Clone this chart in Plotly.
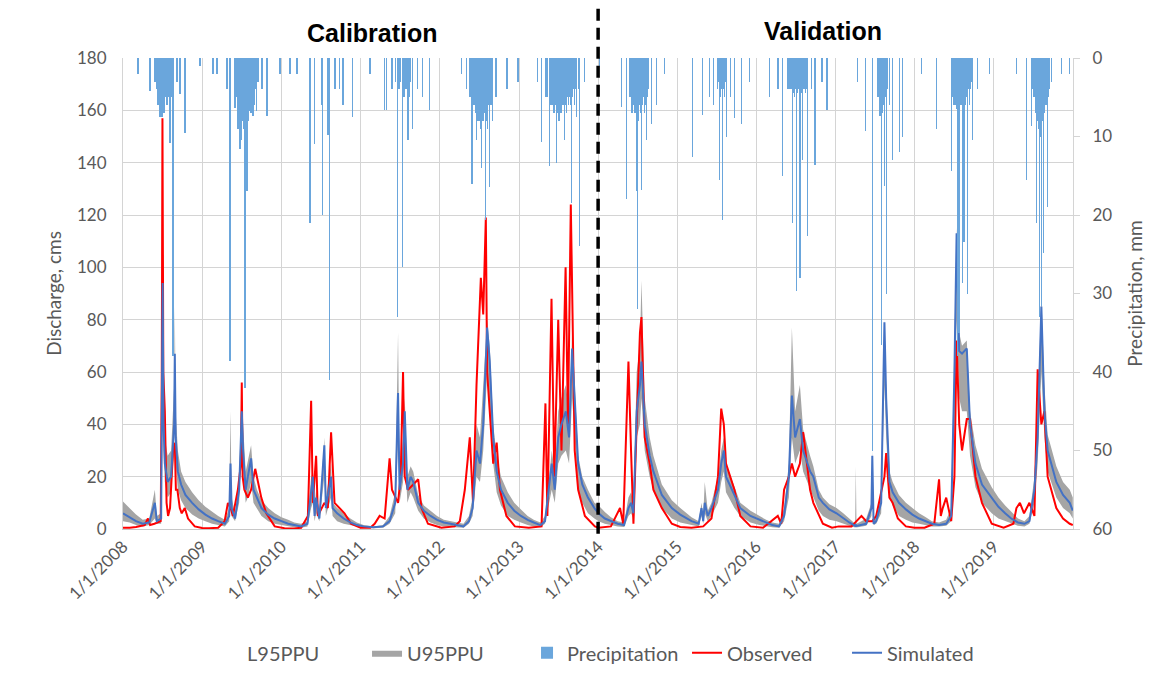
import plotly.graph_objects as go

# ---------------- data ----------------
sim_dates = [
    "2008-01-01","2008-02-01","2008-03-01","2008-04-01","2008-05-01","2008-05-27","2008-06-05","2008-06-25",
    "2008-06-29","2008-07-02","2008-07-06","2008-07-12","2008-07-25","2008-08-10","2008-08-24","2008-08-27",
    "2008-08-31","2008-09-10","2008-09-25","2008-10-15","2008-11-15","2008-12-15",
    "2009-01-15","2009-02-15","2009-03-15","2009-04-15","2009-05-05","2009-05-11","2009-05-16","2009-06-01",
    "2009-06-20","2009-07-02","2009-07-08","2009-07-20","2009-07-30","2009-08-14","2009-08-25","2009-09-10",
    "2009-10-01","2009-11-01","2009-12-01",
    "2010-01-01","2010-02-01","2010-03-01","2010-04-01","2010-05-01","2010-05-18","2010-05-26","2010-06-03",
    "2010-06-10","2010-06-25","2010-07-18","2010-07-25","2010-08-18","2010-08-25","2010-09-15","2010-10-15",
    "2010-11-15","2010-12-15",
    "2011-01-15","2011-03-01","2011-04-15","2011-05-15","2011-06-10","2011-06-23","2011-06-30","2011-07-16",
    "2011-07-24","2011-08-05","2011-08-20","2011-09-01","2011-09-24","2011-10-20","2011-11-20","2011-12-20",
    "2012-01-20","2012-02-20","2012-03-20","2012-04-20","2012-05-15","2012-06-01","2012-06-19","2012-07-05",
    "2012-07-20","2012-08-01","2012-08-07","2012-08-19","2012-09-04","2012-09-20","2012-10-10","2012-11-10",
    "2012-12-10",
    "2013-01-10","2013-02-10","2013-03-10","2013-04-10","2013-05-01","2013-05-15","2013-06-01","2013-06-15",
    "2013-07-01","2013-07-16","2013-08-05","2013-08-20","2013-08-28","2013-09-03","2013-09-15","2013-10-01",
    "2013-10-20","2013-11-15","2013-12-15",
    "2014-01-03","2014-02-01","2014-03-01","2014-04-01","2014-05-01","2014-05-21","2014-06-02","2014-06-13",
    "2014-06-28","2014-07-13","2014-07-20","2014-08-04","2014-08-27","2014-09-13","2014-10-22","2014-12-07",
    "2015-01-15","2015-03-08","2015-04-10","2015-04-23","2015-05-01","2015-05-08","2015-05-22","2015-06-08",
    "2015-07-08","2015-07-23","2015-08-04","2015-08-14","2015-09-22","2015-10-19","2015-12-05",
    "2016-01-15","2016-02-15","2016-03-15","2016-04-15","2016-05-08","2016-05-30","2016-06-13","2016-06-28",
    "2016-07-20","2016-08-04","2016-09-05","2016-09-20","2016-10-15","2016-11-03","2016-12-03",
    "2017-01-05","2017-02-05","2017-03-05","2017-04-01","2017-04-04","2017-04-07","2017-04-30","2017-05-22",
    "2017-06-15","2017-06-19","2017-06-25","2017-07-07","2017-07-30","2017-08-14","2017-08-22","2017-09-06",
    "2017-09-21","2017-10-20","2017-11-21","2017-12-21",
    "2018-01-21","2018-02-21","2018-03-21","2018-04-23","2018-05-26","2018-06-18","2018-07-03","2018-07-13",
    "2018-07-25","2018-08-07","2018-08-29","2018-09-13","2018-10-08","2018-11-07","2018-12-22",
    "2019-01-22","2019-02-22","2019-03-22","2019-04-22","2019-05-22","2019-06-14","2019-07-07","2019-07-22",
    "2019-08-08","2019-08-22","2019-09-06","2019-10-16","2019-11-16","2019-12-17","2019-12-31",
]
sim_vals = [
    6,4.5,3,2,2.5,10,3,4,60,94,40,25,18,20,40,67,35,22,17,13,10,7.5,
    5.5,4,3,2,5,25,8,4,15,45,30,15,20,27,15,12,8,5.5,4,
    3,2,1.5,1,2,15,20,5,12,4,32,8,20,8,6,4,2.5,1.5,
    1,0.7,1,3,10,52,15,25,45,15,20,18,10,7,5,3.5,
    2.5,2,1.5,1,3,8,30,25,40,70,77,64,35,22,15,10,7,
    5,3.5,2.5,1.5,3,12,25,15,35,40,45,35,55,69,50,25,17,12,8,
    6,4,3,2,1.5,8,10,6,45,55,64,40,28,22,13,8,
    5.5,3,2,8,3,10,5,8,15,25,30,20,13,8,5,
    3.5,2.5,1.5,1,5,20,51,35,42,30,22,20,12,10,7.5,
    6,4,2.5,1.2,1.5,1.2,1.5,2,8,28,2,3,10,79,50,18,14,10,7.5,5.5,
    4,3,2,1.5,2,5,60,113,68,67,69,40,25,17,12,
    8.5,6,4,2.5,2,3,15,35,85,45,30,18,13,10,7,
]
l95_vals = [
    3,2.5,1.5,1,1.5,4,2,2,40,70,30,18,12,14,30,50,25,15,11,8,5.5,4,
    3,2,1.5,1,3,15,5,3,10,35,22,10,12,18,10,8,5,3,2,
    1.5,1,0.7,0.5,1,8,10,3,6,3,20,5,12,5,3,2,1.5,0.8,
    0.5,0.3,0.5,2,6,35,10,18,30,10,14,12,7,4,2.5,1.5,
    1,0.8,0.6,0.5,2,5,20,18,30,50,60,45,25,14,9,5,3.5,
    2.5,1.5,1,0.7,2,8,15,10,25,28,30,25,40,50,35,15,10,6,4,
    3,2,1.5,1,0.8,5,6,4,35,40,50,30,20,15,8,4,
    2.5,1.5,1,5,2,6,3,5,10,18,22,14,8,5,2.5,
    1.5,1,0.7,0.5,3,12,35,25,30,22,15,12,7,5,3.5,
    3,2,1.2,0.6,0.8,0.6,1,1.2,5,18,1.5,2,6,55,35,12,9,5,3.5,2.5,
    2,1.5,1,1,1.2,3,40,80,50,45,45,28,16,10,6,
    4,3,2,1.2,1,2,10,25,60,35,22,12,8,6,4,
]
u95_vals = [
    10.5,8,5.5,3.5,4,15,5,6,80,100,55,35,28,30,55,85,45,30,22,18,14,11,
    8.5,6.5,5,3.5,8,45,12,6,20,55,40,22,26,32,20,15,11,8,6,
    4.5,3.5,2.5,2,3,20,22,8,15,6,35,12,25,10,8,6,4,2.5,
    1.5,1,1.5,5,14,75,20,35,50,20,24,22,13,9,7,5,
    3.5,3,2.5,2,5,12,40,35,55,75,80,70,40,28,20,14,10,
    7.5,5,3.5,2.5,5,15,30,22,45,50,55,45,60,75,55,28,20,15,10,
    9,6.5,4.5,3,2.5,12,14,10,60,70,95,50,35,28,17,11,
    8,4.5,3,10,5,18,7,10,20,30,35,25,16,10,7,
    5,3.5,2.5,2,8,25,77,45,55,38,28,24,15,12,9.5,
    8,6,4,2,24,2,3,4,10,30,4,5,15,80,55,22,18,13,10,8,
    6,4.5,3,2.5,3.5,8,70,115,75,70,72,45,32,23,16,
    12,9,6.5,4,3,5,20,45,90,55,36,24,18,15,12,
]

obs_dates = [
    "2008-01-01","2008-02-01","2008-03-01","2008-04-10","2008-04-25","2008-05-05","2008-05-25","2008-06-10",
    "2008-06-23","2008-06-28","2008-07-01","2008-07-05","2008-07-12","2008-07-20","2008-07-27","2008-08-05",
    "2008-08-19","2008-08-27","2008-09-01","2008-09-08","2008-09-19","2008-09-28","2008-10-12","2008-10-27",
    "2008-11-27","2008-12-31",
    "2009-02-01","2009-03-15","2009-04-14","2009-04-29","2009-05-11","2009-05-22","2009-06-14","2009-06-28",
    "2009-07-02","2009-07-06","2009-07-14","2009-07-30","2009-08-14","2009-09-02","2009-09-14","2009-09-30",
    "2009-10-23","2009-12-01",
    "2010-01-15","2010-03-01","2010-04-02","2010-05-03","2010-05-18","2010-05-22","2010-05-26","2010-06-10",
    "2010-06-18","2010-07-18","2010-08-03","2010-08-18","2010-09-03","2010-10-19","2010-11-18",
    "2011-01-01","2011-02-15","2011-03-07","2011-03-30","2011-04-22","2011-05-15","2011-05-26","2011-06-23",
    "2011-07-05","2011-07-16","2011-07-24","2011-08-08","2011-09-01","2011-09-24","2011-10-09","2011-11-08",
    "2012-01-09","2012-03-10","2012-04-03","2012-04-26","2012-05-19","2012-06-03","2012-06-19","2012-07-09",
    "2012-07-20","2012-08-01","2012-08-07","2012-08-19","2012-09-04","2012-09-20","2012-10-05","2012-11-04",
    "2012-12-13",
    "2013-02-15","2013-04-15","2013-05-03","2013-05-12","2013-05-31","2013-06-13","2013-07-01","2013-07-16",
    "2013-08-04","2013-08-15","2013-08-28","2013-09-15","2013-10-01","2013-11-01","2013-12-17",
    "2014-01-03","2014-03-01","2014-04-12","2014-04-27","2014-05-21","2014-06-02","2014-06-13","2014-06-28",
    "2014-07-13","2014-07-20","2014-08-04","2014-08-27","2014-09-13","2014-10-22","2014-12-07",
    "2015-01-15","2015-03-08","2015-05-01","2015-06-08","2015-07-08","2015-07-23","2015-08-04","2015-08-14",
    "2015-09-22","2015-10-19","2015-12-05",
    "2016-02-01","2016-04-09","2016-04-25","2016-05-08","2016-05-30","2016-06-13","2016-06-28","2016-07-20",
    "2016-08-04","2016-09-05","2016-09-20","2016-11-03","2016-12-15",
    "2017-01-15","2017-03-15","2017-04-30","2017-05-22","2017-06-19","2017-07-07","2017-08-14","2017-08-22",
    "2017-09-06","2017-09-21","2017-10-15","2017-11-21","2017-12-31",
    "2018-02-15","2018-04-01","2018-04-23","2018-05-01","2018-05-10","2018-05-26","2018-06-18","2018-07-03",
    "2018-07-13","2018-07-25","2018-08-07","2018-08-29","2018-09-13","2018-10-08","2018-11-07","2018-12-22",
    "2019-02-15","2019-04-01","2019-04-15","2019-05-01","2019-05-20","2019-06-14","2019-07-07","2019-07-22",
    "2019-08-08","2019-08-22","2019-09-06","2019-10-16","2019-11-16","2019-12-17","2019-12-31",
]
obs_vals = [
    0.5,0.5,0.8,1.5,4,1.5,2,2.5,3,60,157,60,45,10,5,8,30,33,15,15,8,6,8,4,1,0.4,
    0.3,0.5,3,10,8,5,15,25,56,20,15,12,15,23,18,12,6,1,
    0.3,0.2,0.5,5,49,15,10,28,5,10,8,37,10,6,2,
    0.5,0.5,2,5,4,27,15,10,20,60,20,15,17,19,8,2,
    0.5,1,3,15,35,10,55,96,82,119,60,45,25,33,15,5,1,
    0.5,1,48,5,88,20,80,30,100,40,124,30,15,5,1,
    0.5,1,8,2,64,30,2,40,75,81,35,25,15,8,2,
    0.8,0.5,1,4,20,46,40,25,15,5,1,
    0.5,5,2,15,20,25,20,25,37,15,10,2,0.5,
    1,1,5,3,3,5,20,29,12,10,4,1,0.5,
    0.5,2,19,5,8,12,3,20,72,40,30,42,42,20,10,2,
    0.5,2,8,10,6,10,5,61,40,45,20,8,4,2,1.5,
]

pcp_dates = [
    "2008-03-10","2008-05-05","2008-05-28","2008-06-05","2008-06-10","2008-06-15","2008-06-20","2008-06-25",
    "2008-06-29","2008-07-05","2008-07-09","2008-07-13","2008-07-18","2008-07-22","2008-07-27","2008-07-31",
    "2008-08-05","2008-08-10","2008-08-14","2008-08-19","2008-09-06","2008-09-20","2008-10-13","2008-12-21",
    "2009-02-19","2009-03-09","2009-04-24","2009-05-08","2009-05-31","2009-06-05","2009-06-14","2009-06-19",
    "2009-06-24","2009-06-28","2009-07-02","2009-07-06","2009-07-11","2009-07-16","2009-07-21","2009-07-26",
    "2009-07-31","2009-08-04","2009-08-08","2009-08-13","2009-08-17","2009-08-22","2009-08-27","2009-09-01",
    "2009-09-09","2009-09-14","2009-10-03","2009-10-26","2009-12-25",
    "2010-02-10","2010-03-13","2010-05-12","2010-06-03","2010-07-05","2010-07-10","2010-08-03","2010-08-12",
    "2010-09-05","2010-09-27","2010-10-12","2010-11-25",
    "2011-02-13","2011-04-22","2011-05-01","2011-05-26","2011-06-10","2011-06-21","2011-06-28","2011-07-05",
    "2011-07-14","2011-07-20","2011-07-25","2011-08-02","2011-08-07","2011-08-12","2011-08-16","2011-08-20",
    "2011-08-29","2011-09-21","2011-10-15","2011-11-16",
    "2012-04-12","2012-05-05","2012-05-20","2012-05-29","2012-06-05","2012-06-10","2012-06-15","2012-06-20",
    "2012-06-25","2012-07-04","2012-07-08","2012-07-13","2012-07-18","2012-07-23","2012-07-27","2012-07-31",
    "2012-08-05","2012-08-10","2012-08-14","2012-08-19","2012-08-24","2012-08-28","2012-09-02","2012-09-16",
    "2012-11-06","2012-12-28",
    "2013-03-28","2013-04-16","2013-05-04","2013-05-10","2013-05-22","2013-05-28","2013-06-06","2013-06-12",
    "2013-06-18","2013-06-24","2013-06-30","2013-07-04","2013-07-08","2013-07-14","2013-07-22","2013-07-26",
    "2013-07-30","2013-08-05","2013-08-09","2013-08-13","2013-08-18","2013-08-23","2013-08-27","2013-09-01",
    "2013-09-06","2013-09-10","2013-09-15","2013-09-20","2013-09-24","2013-10-02","2013-10-08","2013-10-31",
    "2014-01-08","2014-04-19","2014-05-12","2014-05-26","2014-06-01","2014-06-05","2014-06-09","2014-06-14",
    "2014-06-18","2014-06-23","2014-06-28","2014-07-02","2014-07-06","2014-07-11","2014-07-15","2014-07-20",
    "2014-07-24","2014-07-29","2014-08-03","2014-08-07","2014-08-12","2014-08-16","2014-08-22","2014-09-05",
    "2014-09-28","2014-11-03",
    "2015-03-13","2015-04-28","2015-05-30","2015-06-17","2015-07-06","2015-07-11","2015-07-16","2015-07-20",
    "2015-07-25","2015-07-29","2015-08-03","2015-08-08","2015-08-12","2015-08-17","2015-09-05","2015-09-23",
    "2015-10-25","2015-12-01",
    "2016-03-03","2016-04-09","2016-05-01","2016-05-26","2016-06-05","2016-06-10","2016-06-17","2016-06-22",
    "2016-06-26","2016-07-01","2016-07-05","2016-07-10","2016-07-15","2016-07-20","2016-07-25","2016-07-29",
    "2016-08-02","2016-08-06","2016-08-10","2016-08-15","2016-08-20","2016-08-25","2016-09-12","2016-09-28",
    "2016-10-30","2016-11-22",
    "2017-04-13","2017-05-19","2017-06-20","2017-07-13","2017-07-20","2017-07-24","2017-07-27","2017-07-31",
    "2017-08-05","2017-08-10","2017-08-14","2017-08-18","2017-08-23","2017-08-28","2017-09-06","2017-09-20",
    "2017-10-22","2017-11-05",
    "2018-02-02","2018-04-12","2018-06-20","2018-06-25","2018-06-29","2018-07-03","2018-07-08","2018-07-12",
    "2018-07-17","2018-07-21","2018-07-25","2018-07-29","2018-08-03","2018-08-08","2018-08-12","2018-08-17",
    "2018-08-21","2018-08-26","2018-09-01","2018-09-05","2018-09-10","2018-09-15","2018-09-19","2018-09-24",
    "2018-10-18","2018-12-12",
    "2019-04-15","2019-05-31","2019-06-24","2019-07-01","2019-07-06","2019-07-11","2019-07-16","2019-07-20",
    "2019-07-25","2019-07-30","2019-08-03","2019-08-08","2019-08-13","2019-08-18","2019-08-22","2019-08-27",
    "2019-08-31","2019-09-05","2019-09-09","2019-09-14","2019-09-24","2019-11-10","2019-12-16",
]
pcp_vals = [
    2,4.2,3,4,6,6,7.5,7,7.5,6,7,5,5,6,4,5,10.8,4,5,38,3,4.6,9.5,1,
    2,2,4,38.6,6.4,5,9,8,11.6,9,10.4,8,9,42,7,17,8,6,6.8,7,5,7.4,6,4,6.8,3,4,7.4,2,
    2,2,21,11,6,20,9.8,41,4,3.9,6,7.5,
    2,6.6,6.6,4,3,33,4,3,26.6,5,4,4,10.4,4,5,3,9,4,5,6.6,
    2,4,5,16,6,6,7,10.4,8,8,9,14,8,7,7,20.6,8,9,6,16.4,6,5,8,5,4,3,
    3,10.7,5,5,13.8,6,6,7,6,13.4,7,8,8,7,6,6,10.4,6,7,5,6,5,6,18.5,5,4,6,4,7.5,4,24,3,
    1,6.2,18,5,5,7,7,6,7,7,17,32,8,6,7,16.8,6,5,7,6,10.4,5,4,8.4,6,2,
    12.6,7.3,5,6,4,3,15.5,5,4,20.6,4,5,3,10,5,7.6,8.4,3,
    5,4,15,4,4,4,21,4.5,5,4,29.7,4.5,4,28,4,4.5,13,4,4,4.5,4,22.7,4,13.6,3,6.6,
    3,9.3,50,5,5,7.4,7,36.5,7,6,16.3,5,30,4,6,13,12,10,
    2,9,14.4,5,6,6,6,6.5,38,6,35,6,6,28.6,5,23.5,6,5,30,4,6,4,3,10.4,4,2,
    2,15.5,8.7,4,5,7,21,8,9,33,10,31.6,8,24.8,7,6,6,19,5,4,3,2,2,
]

tick_years = ["2008-01-01","2009-01-01","2010-01-01","2011-01-01","2012-01-01","2013-01-01",
              "2014-01-01","2015-01-01","2016-01-01","2017-01-01","2018-01-01","2019-01-01"]
tick_text = ["1/1/2008","1/1/2009","1/1/2010","1/1/2011","1/1/2012","1/1/2013",
             "1/1/2014","1/1/2015","1/1/2016","1/1/2017","1/1/2018","1/1/2019"]
split_date = "2014-01-01"
period_labels = ["Calibration", "Validation"]

# ---------------- styles ----------------
FONT = "Lato, 'Open Sans', sans-serif"
GRID = "#D4D4D4"
TXT = "#595959"
DAY_MS = 86400000

fig = go.Figure()

fig.add_trace(go.Scatter(
    x=sim_dates, y=l95_vals, name="L95PPU", mode="lines",
    line=dict(width=0, color="rgba(0,0,0,0)"), legendrank=1, hoverinfo="skip"))
fig.add_trace(go.Scatter(
    x=sim_dates, y=u95_vals, name="U95PPU", mode="lines", fill="tonexty",
    fillcolor="#A5A5A5", line=dict(width=0, color="#A5A5A5"), legendrank=2))
fig.add_trace(go.Scatter(
    x=obs_dates, y=obs_vals, name="Observed", mode="lines",
    line=dict(color="#FF0000", width=2), legendrank=4))
fig.add_trace(go.Scatter(
    x=sim_dates, y=sim_vals, name="Simulated", mode="lines",
    line=dict(color="#4472C4", width=2), legendrank=5))
fig.add_trace(go.Bar(
    x=pcp_dates, y=pcp_vals, name="Precipitation", yaxis="y2",
    width=[2 * DAY_MS] * len(pcp_dates), marker=dict(color="#6AA6DC", line=dict(width=0)),
    legendrank=3))

fig.add_shape(type="line", xref="x", yref="paper", x0=split_date, x1=split_date,
              y0=-0.01, y1=1.112, line=dict(color="black", width=3.5, dash="12px,7px"))

for lbl, xp, yp in [(period_labels[0], 0.263, 1.053), (period_labels[1], 0.737, 1.057)]:
    fig.add_annotation(text="<b>" + lbl + "</b>", xref="paper", yref="paper",
                       x=xp, y=yp, xanchor="center", yanchor="middle", showarrow=False,
                       font=dict(family="'Liberation Sans', Arial, sans-serif", size=25, color="black"))

fig.update_layout(
    width=1174, height=683,
    margin=dict(l=123, r=101, t=58, b=153),
    paper_bgcolor="white", plot_bgcolor="white",
    font=dict(family=FONT, color=TXT, size=17),
    bargap=0,
    showlegend=True,
    legend=dict(orientation="h", x=0.5095, xanchor="center", y=-0.26, yanchor="middle",
                font=dict(size=20, color=TXT), traceorder="normal",
                entrywidth=115, entrywidthmode="pixels"),
    xaxis=dict(type="date", range=["2008-01-01", "2020-01-01"],
               tickvals=tick_years, ticktext=tick_text, tickangle=-45,
               showgrid=True, gridcolor=GRID, gridwidth=1,
               showline=True, linecolor="#C8C8C8", linewidth=1,
               ticks="", tickfont=dict(size=17, color=TXT)),
    yaxis=dict(range=[0, 180], dtick=20, showgrid=True, gridcolor=GRID,
               showline=True, linecolor=GRID, zeroline=False, ticks="",
               ticklabelstandoff=12,
               tickfont=dict(size=17, color=TXT),
               title=dict(text="Discharge, cms", font=dict(size=19, color=TXT), standoff=10)),
    yaxis2=dict(range=[60, 0], dtick=10, overlaying="y", side="right",
                showgrid=False, showline=True, linecolor=GRID, zeroline=False,
                ticks="outside", ticklen=6, tickcolor=GRID, ticklabelstandoff=9,
                tickfont=dict(size=17, color=TXT),
                title=dict(text="Precipitation, mm", font=dict(size=19, color=TXT), standoff=17)),
)

fig.write_html("out.html", config={"displayModeBar": False},
               post_script="document.body.style.margin='0';document.body.style.overflow='hidden';")
